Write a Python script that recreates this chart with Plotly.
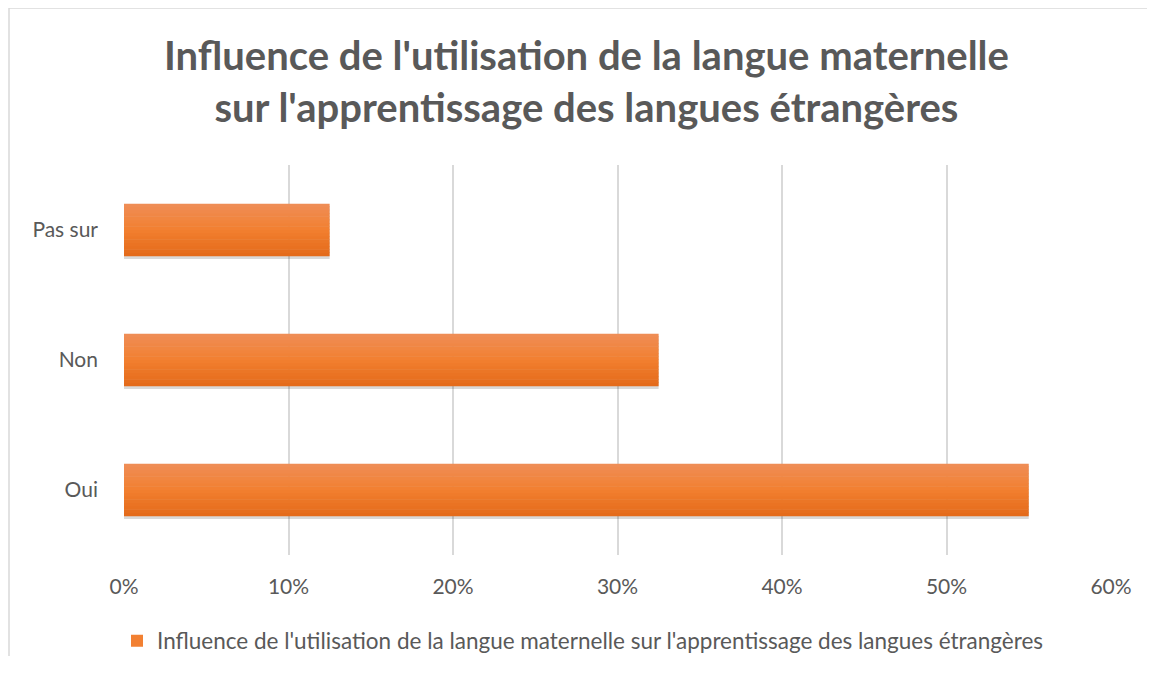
import plotly.graph_objects as go

# ---- data ----
categories = ["Oui", "Non", "Pas sur"]
values = [0.55, 0.325, 0.125]
series_name = "Influence de l'utilisation de la langue maternelle sur l'apprentissage des langues étrangères"
title_text = "Influence de l'utilisation de la langue maternelle<br>sur l'apprentissage des langues étrangères"
x_tickvals = [0, 0.1, 0.2, 0.3, 0.4, 0.5, 0.6]
x_ticktext = ["0%", "10%", "20%", "30%", "40%", "50%", "60%"]

# ---- layout geometry (figure pixels; page has an 8px body margin) ----
OFF = 8
W, H = 1155 - 2 * OFF, 674 - 2 * OFF - 10
L, R, T, B = 124 - OFF, 1111 - OFF, 165 - OFF, 555 - OFF
FONT = "Lato"
TXT = "#595959"

def px_x(p):  # page pixel -> paper x
    return (p - OFF - L) / (R - L)

def px_y(p):  # page pixel -> paper y
    return (B - (p - OFF)) / (B - T)

fig = go.Figure()

bar_w = 0.405
# soft shadow under the bars
fig.add_trace(go.Bar(
    y=categories, x=values, orientation="h", width=bar_w, offset=-bar_w / 2 - 0.02,
    marker=dict(color="rgba(0,0,0,0.15)", line=dict(width=0)),
    showlegend=False, hoverinfo="skip"))

# gradient stripes (bottom -> top)
def lerp(c1, c2, t):
    return tuple(round(a + (b - a) * t) for a, b in zip(c1, c2))

bottom_c = (0xE3, 0x6A, 0x1A)
mid_c = (0xF2, 0x7F, 0x2F)
top_c = (0xEF, 0x8E, 0x58)
N = 16
step = bar_w / N
for i in range(N):
    t = (i + 0.5) / N
    if t < 0.5:
        c = lerp(bottom_c, mid_c, t / 0.5)
    else:
        c = lerp(mid_c, top_c, (t - 0.5) / 0.5)
    col = "rgb(%d,%d,%d)" % c
    fig.add_trace(go.Bar(
        y=categories, x=values, orientation="h",
        width=step + (0.004 if i < N - 1 else 0), offset=-bar_w / 2 + i * step,
        marker=dict(color=col, line=dict(width=0)),
        name=series_name, showlegend=(i == N // 2), hoverinfo="x+y"))

frame = dict(color="#D9D9D9", width=1.5)
fig.update_layout(
    width=W, height=H,
    margin=dict(l=L, r=W - R, t=T, b=H - B, autoexpand=False),
    paper_bgcolor="white", plot_bgcolor="white",
    barmode="overlay",
    font=dict(family=FONT, color=TXT, size=21),
    xaxis=dict(range=[0, 0.6], tickvals=x_tickvals, ticktext=x_ticktext,
               showgrid=True, gridcolor="#D9D9D9", gridwidth=1.5,
               zeroline=False, showline=False, ticks="", ticklabelstandoff=17,
               tickfont=dict(size=21, color=TXT, family=FONT), fixedrange=True),
    yaxis=dict(showgrid=False, zeroline=False, showline=False, ticks="",
               ticklabelstandoff=25, range=[-0.5, 2.5],
               tickfont=dict(size=21, color=TXT, family=FONT), fixedrange=True),
    legend=dict(orientation="h", x=px_x(583), xanchor="center", y=px_y(641), yanchor="middle",
                font=dict(size=22.5, color=TXT, family=FONT), itemwidth=30,
                bgcolor="rgba(0,0,0,0)"),
    annotations=[dict(text="<b>" + title_text + "</b>", xref="paper", yref="paper",
                      x=px_x(586), y=px_y(81), xanchor="center", yanchor="middle",
                      showarrow=False, align="center",
                      font=dict(family=FONT, size=40, color=TXT))],
    shapes=[
        dict(type="line", xref="paper", yref="paper",
             x0=px_x(9), x1=px_x(1170), y0=px_y(8), y1=px_y(8), line=frame, layer="below"),
        dict(type="line", xref="paper", yref="paper",
             x0=px_x(9), x1=px_x(9), y0=px_y(8), y1=px_y(700), line=frame, layer="below"),
    ],
)

fig.write_html("out.html")
